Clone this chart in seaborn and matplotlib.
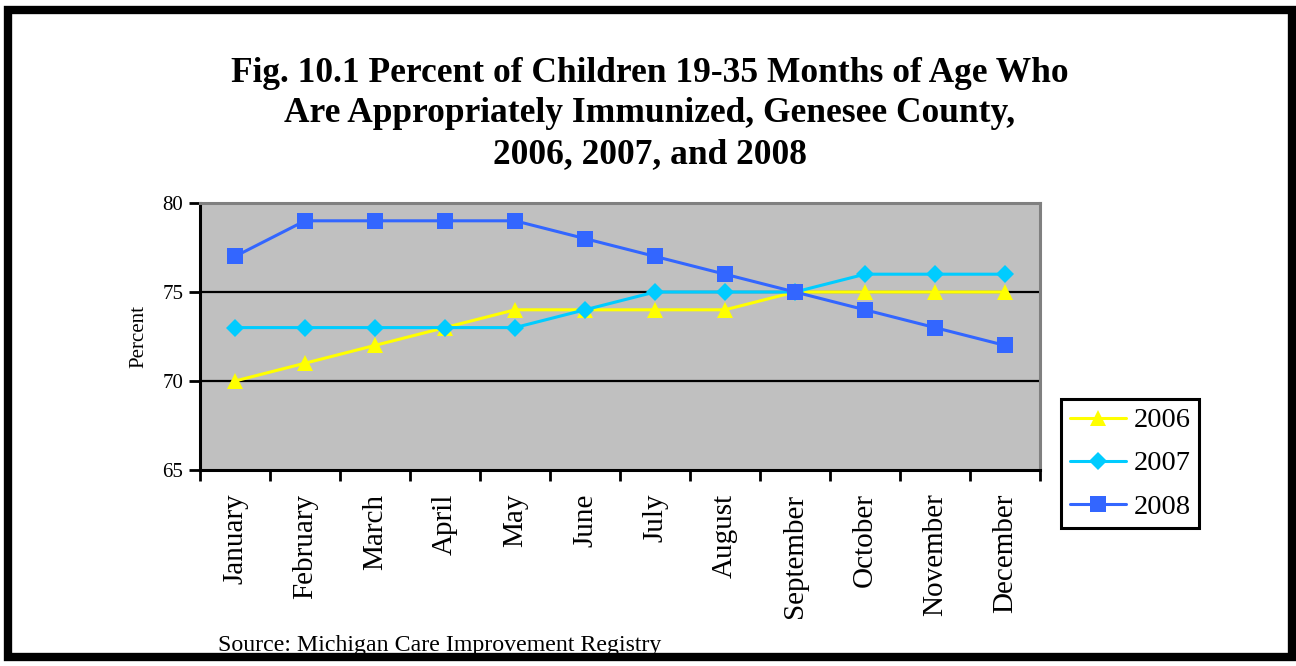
import numpy as np
import pandas as pd
import seaborn as sns
import matplotlib.pyplot as plt
from matplotlib.patches import Rectangle
from matplotlib.lines import Line2D
from matplotlib.ticker import FixedLocator

months = ['January', 'February', 'March', 'April', 'May', 'June', 'July',
          'August', 'September', 'October', 'November', 'December']
years = ['2006', '2007', '2008']
pct_2006 = [70, 71, 72, 73, 74, 74, 74, 74, 75, 75, 75, 75]
pct_2007 = [73, 73, 73, 73, 73, 74, 75, 75, 75, 76, 76, 76]
pct_2008 = [77, 79, 79, 79, 79, 78, 77, 76, 75, 74, 73, 72]

df = pd.DataFrame({
    'month': months * 3,
    'idx': list(range(12)) * 3,
    'year': ['2006'] * 12 + ['2007'] * 12 + ['2008'] * 12,
    'pct': pct_2006 + pct_2007 + pct_2008,
})

sns.set_theme(style='white')
plt.rcParams['font.family'] = ['Liberation Serif', 'DejaVu Serif']
plt.rcParams['text.color'] = 'black'
plt.rcParams['axes.labelcolor'] = 'black'
plt.rcParams['xtick.color'] = 'black'
plt.rcParams['ytick.color'] = 'black'

colors = {'2006': '#FFFF00', '2007': '#00CCFF', '2008': '#3366FF'}
markers = {'2006': '^', '2007': 'D', '2008': 's'}

fig = plt.figure(figsize=(12.96, 6.66), dpi=100)
ax = fig.add_axes([200 / 1296, 1 - 470 / 666, 840 / 1296, 267 / 666])
ax.set_facecolor('#C0C0C0')

ax.axhline(70, color='black', lw=1.6, zorder=1)
ax.axhline(75, color='black', lw=1.6, zorder=1)

sns.lineplot(data=df, x='idx', y='pct', hue='year', style='year',
             palette=colors, markers=markers, dashes=False,
             linewidth=2.2, markersize=12, markeredgewidth=0,
             ax=ax, zorder=3, legend=False)
# smaller diamonds
for ln in ax.lines:
    if ln.get_marker() == 'D':
        ln.set_markersize(9.5)

ax.set_xlim(-0.5, 11.5)
ax.set_ylim(65, 80)
ax.set_yticks([65, 70, 75, 80])
ax.set_yticklabels(['65', '70', '75', '80'], fontsize=15)
ax.set_xticks(range(12))
ax.set_xticklabels(months, rotation=90, fontsize=21)
ax.xaxis.set_minor_locator(FixedLocator(np.arange(-0.5, 12, 1)))
ax.tick_params(axis='x', which='major', length=0, pad=17)
ax.tick_params(axis='x', which='minor', length=8, width=2, direction='out',
               color='black', bottom=True)
ax.tick_params(axis='y', length=8, width=2, direction='out', color='black',
               left=True, pad=4)
ax.set_xlabel('')
ax.set_ylabel('Percent', fontsize=15, labelpad=10)

for side in ['left', 'bottom']:
    ax.spines[side].set_color('black')
    ax.spines[side].set_linewidth(2.2)
for side in ['top', 'right']:
    ax.spines[side].set_color('#808080')
    ax.spines[side].set_linewidth(2.2)

handles = [Line2D([], [], color=colors[y], marker=markers[y], lw=2.2,
                  markersize=9.5 if y == '2007' else 12, markeredgewidth=0)
           for y in years]
leg = fig.legend(handles, years, loc='upper left',
                 bbox_to_anchor=(1061 / 1296, 1 - 399 / 666),
                 bbox_transform=fig.transFigure, fontsize=20.5,
                 frameon=True, fancybox=False, edgecolor='black', framealpha=1,
                 handlelength=2.0, handletextpad=0.25, labelspacing=0.6,
                 borderpad=0.3, borderaxespad=0)
leg.get_frame().set_linewidth(2.2)

fig.text(650 / 1296, 1 - 114 / 666,
         'Fig. 10.1 Percent of Children 19-35 Months of Age Who\n'
         'Are Appropriately Immunized, Genesee County,\n'
         '2006, 2007, and 2008',
         ha='center', va='center', fontsize=25.5, fontweight='bold',
         linespacing=1.32)

fig.text(218 / 1296, 1 - 646 / 666, 'Source: Michigan Care Improvement Registry',
         ha='left', va='center', fontsize=17.2)

fig.add_artist(Rectangle((8 / 1296, 9 / 666), 1284 / 1296, 1 - 19 / 666,
                         transform=fig.transFigure, fill=False,
                         edgecolor='black', linewidth=6))

fig.savefig('out.png', dpi=100)
